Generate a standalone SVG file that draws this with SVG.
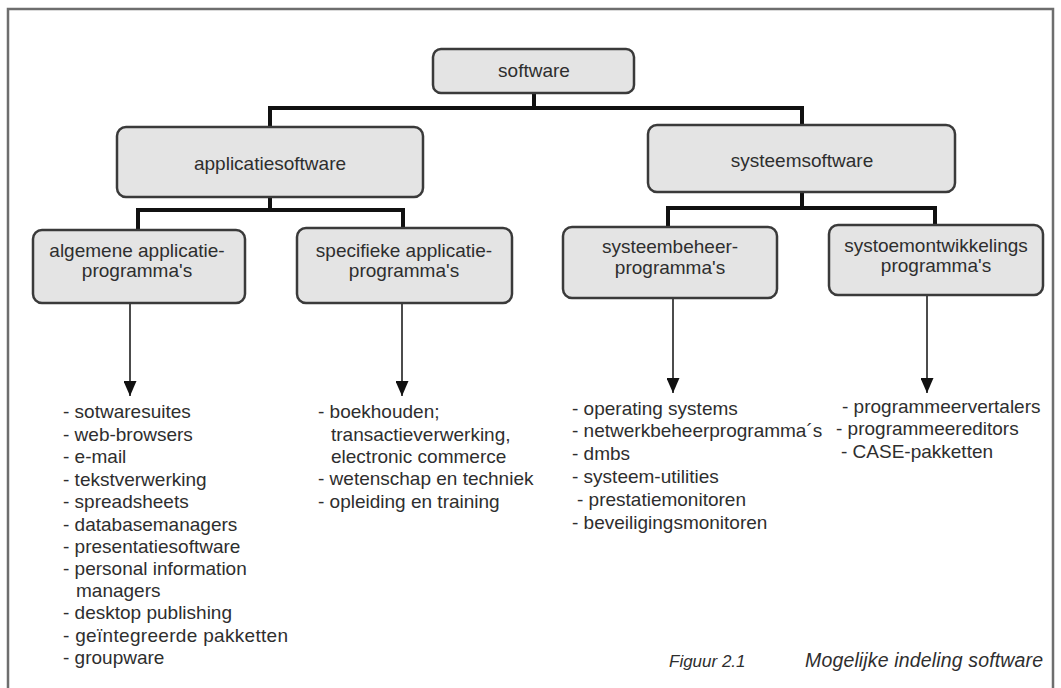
<svg xmlns="http://www.w3.org/2000/svg" width="1061" height="688" viewBox="0 0 1061 688">
  <defs>
    <style>
      .frame { fill: none; stroke: #6e6e6e; stroke-width: 2.5; }
      .box { fill: #e4e4e4; stroke: #3a3a3a; stroke-width: 2.5; }
      .lbl { font-family: "Liberation Sans", Arial, sans-serif; font-size: 19px; fill: #2e2e2e; text-anchor: middle; }
      .item { font-family: "Liberation Sans", Arial, sans-serif; font-size: 19px; fill: #2e2e2e; }
      .cap { font-family: "Liberation Sans", Arial, sans-serif; font-style: italic; fill: #2e2e2e; }
      .bar { fill: none; stroke: #111; stroke-width: 4; }
      .arr { fill: none; stroke: #111; stroke-width: 1.5; marker-end: url(#head); }
    </style>
    <!-- solid triangular arrowhead, tip at the line end -->
    <marker id="head" viewBox="0 0 15 13" refX="15" refY="6.5" markerWidth="15" markerHeight="13" markerUnits="userSpaceOnUse" orient="auto">
      <path d="M0,0 L15,6.5 L0,13 Z" fill="#111"/>
    </marker>
  </defs>

  <rect width="1061" height="688" fill="#ffffff"/>
  <!-- outer frame, open at the bottom -->
  <path class="frame" d="M8,700 V9 H1053 V700"/>

  <!-- tree connectors -->
  <g id="connectors">
    <path class="bar" d="M534,92 V108 M270,108 H802 M270,106 V127 M802,106 V125"/>
    <path class="bar" d="M270,197 V210 M138,210 H403 M138,208 V230 M403,208 V228"/>
    <path class="bar" d="M802,192 V208 M668,208 H935 M668,206 V227 M935,206 V225"/>
    <line class="arr" x1="130" y1="303" x2="130" y2="396"/>
    <line class="arr" x1="402" y1="303" x2="402" y2="396"/>
    <line class="arr" x1="673" y1="298" x2="673" y2="393"/>
    <line class="arr" x1="927" y1="295" x2="927" y2="393"/>
  </g>

  <g id="software">
    <rect class="box" x="433" y="49" width="201" height="44" rx="8"/>
    <text class="lbl" x="534" y="77">software</text>
  </g>

  <g id="applicatiesoftware">
    <rect class="box" x="117" y="127" width="306" height="70" rx="9"/>
    <text class="lbl" x="270" y="170">applicatiesoftware</text>
  </g>

  <g id="systeemsoftware">
    <rect class="box" x="648" y="125" width="307" height="67" rx="9"/>
    <text class="lbl" x="802" y="167">systeemsoftware</text>
  </g>

  <g id="algemene">
    <rect class="box" x="33" y="230" width="212" height="73" rx="9"/>
    <text class="lbl" x="137" y="257">algemene applicatie-</text>
    <text class="lbl" x="137" y="277">programma's</text>
  </g>

  <g id="specifieke">
    <rect class="box" x="297" y="228" width="215" height="75" rx="9"/>
    <text class="lbl" x="404" y="257">specifieke applicatie-</text>
    <text class="lbl" x="404" y="277">programma's</text>
  </g>

  <g id="systeembeheer">
    <rect class="box" x="563" y="227" width="214" height="71" rx="9"/>
    <text class="lbl" x="670" y="253">systeembeheer-</text>
    <text class="lbl" x="670" y="274">programma's</text>
  </g>

  <g id="systeemontwikkeling">
    <rect class="box" x="829" y="225" width="214" height="70" rx="9"/>
    <text class="lbl" x="936" y="252">systoemontwikkelings</text>
    <text class="lbl" x="936" y="272">programma's</text>
  </g>

  <g id="list-algemeen" class="item">
    <text x="63" y="418">- sotwaresuites</text>
    <text x="63" y="441">- web-browsers</text>
    <text x="63" y="463">- e-mail</text>
    <text x="63" y="486">- tekstverwerking</text>
    <text x="63" y="508">- spreadsheets</text>
    <text x="63" y="531">- databasemanagers</text>
    <text x="63" y="553">- presentatiesoftware</text>
    <text x="63" y="575">- personal information</text>
    <text x="76" y="597">managers</text>
    <text x="63" y="619">- desktop publishing</text>
    <text x="63" y="642" textLength="225">- geïntegreerde pakketten</text>
    <text x="63" y="664">- groupware</text>
  </g>

  <g id="list-specifiek" class="item">
    <text x="318" y="418">- boekhouden;</text>
    <text x="331" y="441">transactieverwerking,</text>
    <text x="331" y="463">electronic commerce</text>
    <text x="318" y="485">- wetenschap en techniek</text>
    <text x="318" y="508">- opleiding en training</text>
  </g>

  <g id="list-beheer" class="item">
    <text x="572" y="415">- operating systems</text>
    <text x="572" y="437">- netwerkbeheerprogramma´s</text>
    <text x="572" y="460">- dmbs</text>
    <text x="572" y="483">- systeem-utilities</text>
    <text x="577" y="506">- prestatiemonitoren</text>
    <text x="572" y="529">- beveiligingsmonitoren</text>
  </g>

  <g id="list-ontwikkeling" class="item">
    <text x="842" y="413">- programmeervertalers</text>
    <text x="836" y="435">- programmeereditors</text>
    <text x="841" y="458">- CASE-pakketten</text>
  </g>

  <g id="caption" class="cap">
    <text x="669" y="667" font-size="17">Figuur 2.1</text>
    <text x="805" y="667" font-size="19.5" textLength="238">Mogelijke indeling software</text>
  </g>
</svg>
